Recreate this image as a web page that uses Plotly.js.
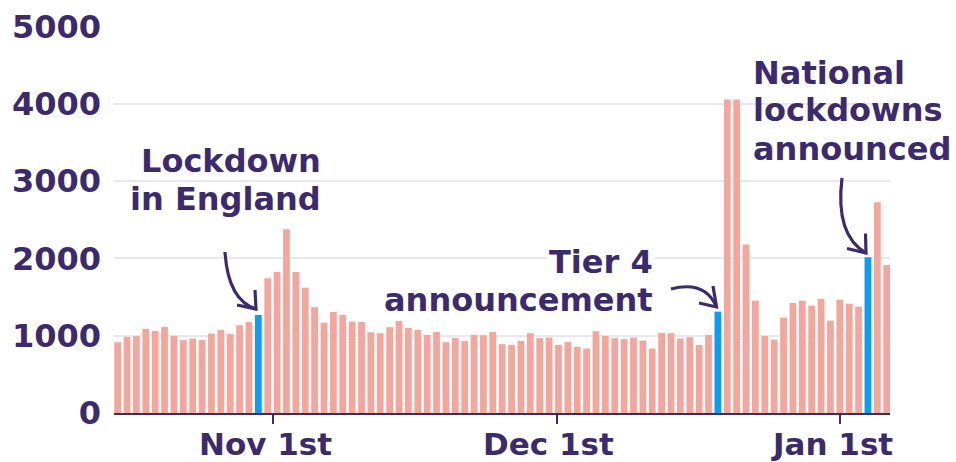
<!DOCTYPE html>
<html>
<head>
<meta charset="utf-8">
<script src="https://cdn.plot.ly/plotly-3.0.1.min.js"></script>
<style>
  html, body { margin: 0; padding: 0; background: #ffffff; }
  #chart { width: 956px; height: 462px; }
</style>
</head>
<body>
<div id="chart"></div>
<script>
// ---------------- DATA ----------------
const dates = [
  '2020-10-16','2020-10-17','2020-10-18','2020-10-19','2020-10-20','2020-10-21','2020-10-22','2020-10-23',
  '2020-10-24','2020-10-25','2020-10-26','2020-10-27','2020-10-28','2020-10-29','2020-10-30','2020-10-31',
  '2020-11-01','2020-11-02','2020-11-03','2020-11-04','2020-11-05','2020-11-06','2020-11-07','2020-11-08',
  '2020-11-09','2020-11-10','2020-11-11','2020-11-12','2020-11-13','2020-11-14','2020-11-15','2020-11-16',
  '2020-11-17','2020-11-18','2020-11-19','2020-11-20','2020-11-21','2020-11-22','2020-11-23','2020-11-24',
  '2020-11-25','2020-11-26','2020-11-27','2020-11-28','2020-11-29','2020-11-30','2020-12-01','2020-12-02',
  '2020-12-03','2020-12-04','2020-12-05','2020-12-06','2020-12-07','2020-12-08','2020-12-09','2020-12-10',
  '2020-12-11','2020-12-12','2020-12-13','2020-12-14','2020-12-15','2020-12-16','2020-12-17','2020-12-18',
  '2020-12-19','2020-12-20','2020-12-21','2020-12-22','2020-12-23','2020-12-24','2020-12-25','2020-12-26',
  '2020-12-27','2020-12-28','2020-12-29','2020-12-30','2020-12-31','2021-01-01','2021-01-02','2021-01-03',
  '2021-01-04','2021-01-05','2021-01-06'
];

const values = [
  916, 985, 993, 1088, 1062, 1114, 997, 942, 963, 946, 1027, 1075, 1023, 1135, 1178,
  1268,
  1742, 1823, 2378, 1823, 1621, 1368,
  1169, 1307, 1268, 1182, 1178, 1045, 1032, 1110, 1191, 1101, 1075, 1010, 1049, 916,
  972, 933, 1010, 1006, 1049, 890, 881, 933,
  1032, 968, 976, 881, 920, 855, 834, 1058, 997, 968, 955, 976, 937, 834, 1036, 1032,
  963, 981, 881, 1010,
  1311,
  4055, 4055, 2180, 1453, 997, 950, 1234, 1423, 1453, 1389, 1475, 1195, 1466, 1414, 1376,
  2013, 2726, 1914
];

const highlightDates = ['2020-10-31', '2020-12-19', '2021-01-04'];

const yTickValues = [0, 1000, 2000, 3000, 4000, 5000];
const yTickLabels = ['0', '1000', '2000', '3000', '4000', '5000'];

const xTickValues = ['2020-11-01 14:24', '2020-12-01 19:26', '2021-01-01 00:30'];
const xTickLabels = ['Nov 1st', 'Dec 1st', 'Jan 1st'];

// ---------------- STYLE ----------------
const PURPLE = '#3c2a6e';
const SALMON = '#f4a69c';
const BLUE = '#0a9cf7';
const GRID = '#e9e7ef';
const FONT = 'DejaVu Sans, sans-serif';

const barColors = dates.map(d => highlightDates.includes(d) ? BLUE : SALMON);

// plot area in pixels (matches margins below)
const PL = 114, PT = 26, PW = 776, PH = 387;
const fx = x => (x - PL) / PW;
const fy = y => (PT + PH - y) / PH;

// annotation text lines (pixel anchors)
const labelLines = [
  {text: 'Lockdown',     x: 323, base: 173.3, anchor: 'right', bg: null},
  {text: 'in England',   x: 323, base: 211.7, anchor: 'right', bg: null},
  {text: 'Tier 4',       x: 655, base: 274.3, anchor: 'right', bg: '#ffffff'},
  {text: 'announcement', x: 655, base: 312.7, anchor: 'right', bg: null},
  {text: 'National',     x: 751, base: 85.0,  anchor: 'left',  bg: null},
  {text: 'lockdowns',    x: 751, base: 122.7, anchor: 'left',  bg: null},
  {text: 'announced',    x: 751, base: 161.7, anchor: 'left',  bg: null}
];
const ANN_SIZE = 32;
const descent = 0.236 * ANN_SIZE + 1;

const annotations = labelLines.map(l => ({
  xref: 'paper', yref: 'paper',
  x: fx(l.x), y: fy(l.base + descent),
  xanchor: l.anchor, yanchor: 'bottom',
  text: l.text, showarrow: false,
  align: l.anchor,
  bgcolor: l.bg || 'rgba(0,0,0,0)',
  borderpad: 1,
  font: {family: FONT, size: ANN_SIZE, color: PURPLE, weight: 700}
}));

// x-axis tick labels placed as text at the tick dates
const X_SIZE = 31;
const xLabelBase = 455.5;
xTickValues.forEach((v, i) => {
  annotations.push({
    xref: 'x', yref: 'paper',
    x: v, y: fy(xLabelBase + 0.236 * X_SIZE + 1),
    xanchor: 'center', yanchor: 'bottom', xshift: -8,
    text: xTickLabels[i], showarrow: false,
    borderpad: 1,
    font: {family: FONT, size: X_SIZE, color: PURPLE, weight: 700}
  });
});

// curved arrows (pixel geometry)
const arrows = [
  {s: [225, 252], c: [228, 300], t: [256, 309], a1: [237, 305], a2: [255, 290]},
  {s: [671, 289], c: [705, 280], t: [716.5, 307], a1: [699, 303], a2: [713, 286]},
  {s: [842, 178], c: [835, 235], t: [866, 253], a1: [847, 248.5], a2: [865.5, 233.5]}
];
const P = p => fx(p[0]).toFixed(5) + ',' + fy(p[1]).toFixed(5);
const shapes = [];
arrows.forEach(a => {
  shapes.push({
    type: 'path', xref: 'paper', yref: 'paper', layer: 'above',
    path: 'M' + P(a.s) + ' Q' + P(a.c) + ' ' + P(a.t),
    line: {color: PURPLE, width: 3.2}
  });
  shapes.push({
    type: 'path', xref: 'paper', yref: 'paper', layer: 'above',
    path: 'M' + P(a.a1) + ' L' + P(a.t) + ' L' + P(a.a2),
    line: {color: PURPLE, width: 3.2}
  });
});

const trace = {
  type: 'bar',
  x: dates,
  y: values,
  marker: {color: barColors, line: {width: 0}},
  hoverinfo: 'x+y'
};

const layout = {
  width: 956, height: 462,
  margin: {l: PL, r: 956 - PL - PW, t: PT, b: 462 - PT - PH, pad: 0},
  paper_bgcolor: '#ffffff',
  plot_bgcolor: '#ffffff',
  bargap: 0.28,
  showlegend: false,
  xaxis: {
    type: 'date',
    range: ['2020-10-15 14:40', '2021-01-06 08:27'],
    tickmode: 'array',
    tickvals: xTickValues,
    ticktext: xTickLabels,
    showticklabels: false,
    ticks: 'outside', ticklen: 9, tickwidth: 2, tickcolor: PURPLE,
    showline: true, linewidth: 2, linecolor: PURPLE,
    showgrid: false, zeroline: false,
    fixedrange: true
  },
  yaxis: {
    range: [0, 5005],
    tickmode: 'array',
    tickvals: yTickValues,
    ticktext: yTickLabels,
    showgrid: true, gridcolor: GRID, gridwidth: 2,
    zeroline: false, showline: false, ticks: '',
    ticklabelstandoff: 12,
    tickfont: {family: FONT, size: 32, color: PURPLE, weight: 700},
    fixedrange: true
  },
  annotations: annotations,
  shapes: shapes
};

Plotly.newPlot('chart', [trace], layout, {displayModeBar: false, staticPlot: true});
</script>
</body>
</html>
